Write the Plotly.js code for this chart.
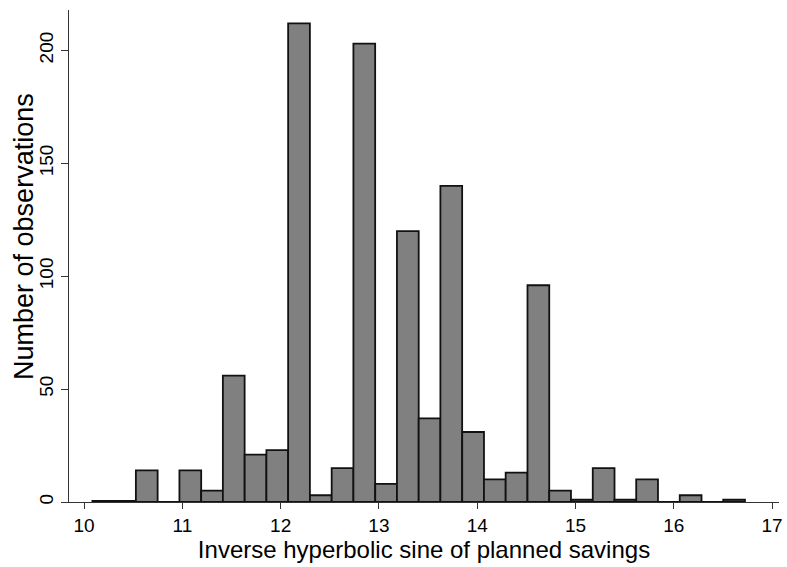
<!DOCTYPE html>
<html>
<head>
<meta charset="utf-8">
<script src="https://cdn.plot.ly/plotly-3.0.1.min.js"></script>
<style>html,body{margin:0;padding:0;background:#fff;}#chart{width:787px;height:567px;}</style>
</head>
<body>
<div id="chart"></div>
<script>
// Histogram bins: centers of each bin and counts
const binCenters = [10.196, 10.417, 10.638, 10.860, 11.081, 11.302, 11.523, 11.745, 11.966, 12.187,
                    12.409, 12.630, 12.851, 13.073, 13.294, 13.515, 13.736, 13.958, 14.179, 14.400,
                    14.622, 14.843, 15.064, 15.286, 15.507, 15.728, 15.950, 16.171, 16.392, 16.613];
const counts = [0.5, 0.5, 14, 0, 14, 5, 56, 21, 23, 212,
                3, 15, 203, 8, 120, 37, 140, 31, 10, 13,
                96, 5, 1, 15, 1, 10, 0, 3, 0, 1];
const binWidth = 0.2213;
const xTickVals = [10, 11, 12, 13, 14, 15, 16, 17];
const yTickVals = [0, 50, 100, 150, 200];

const trace = {
  type: 'bar',
  x: binCenters,
  y: counts,
  width: binWidth,
  marker: { color: '#808080', line: { color: '#111111', width: 1.8 } },
  hoverinfo: 'x+y'
};

const font = 'Liberation Sans, Arial, sans-serif';
const layout = {
  width: 787, height: 567,
  margin: { l: 69, r: 8, t: 10, b: 65, pad: 0 },
  paper_bgcolor: '#ffffff', plot_bgcolor: '#ffffff',
  showlegend: false,
  font: { family: font, color: '#000' },
  xaxis: {
    range: [9.847, 17.07],
    tickvals: xTickVals,
    ticktext: xTickVals.map(String),
    ticks: 'outside', ticklen: 6, tickwidth: 1, tickcolor: '#333',
    showline: true, linecolor: '#333', linewidth: 1,
    showgrid: false, zeroline: false,
    tickfont: { size: 19, family: font },
    title: { text: 'Inverse hyperbolic sine of planned savings', font: { size: 24, family: font }, standoff: 0 }
  },
  yaxis: {
    range: [0, 217.9],
    tickvals: yTickVals,
    ticktext: yTickVals.map(String),
    tickangle: -90,
    ticks: 'outside', ticklen: 7, tickwidth: 1, tickcolor: '#333',
    showline: true, linecolor: '#333', linewidth: 1,
    showgrid: false, zeroline: false,
    tickfont: { size: 19, family: font }
  },
  annotations: [{
    text: 'Number of observations',
    xref: 'paper', yref: 'paper',
    x: -0.0634, y: 0.5407,
    xanchor: 'center', yanchor: 'middle',
    textangle: -90,
    showarrow: false,
    font: { size: 27, family: font, color: '#000' }
  }]
};

Plotly.newPlot('chart', [trace], layout, { displayModeBar: false, staticPlot: true });
</script>
</body>
</html>
